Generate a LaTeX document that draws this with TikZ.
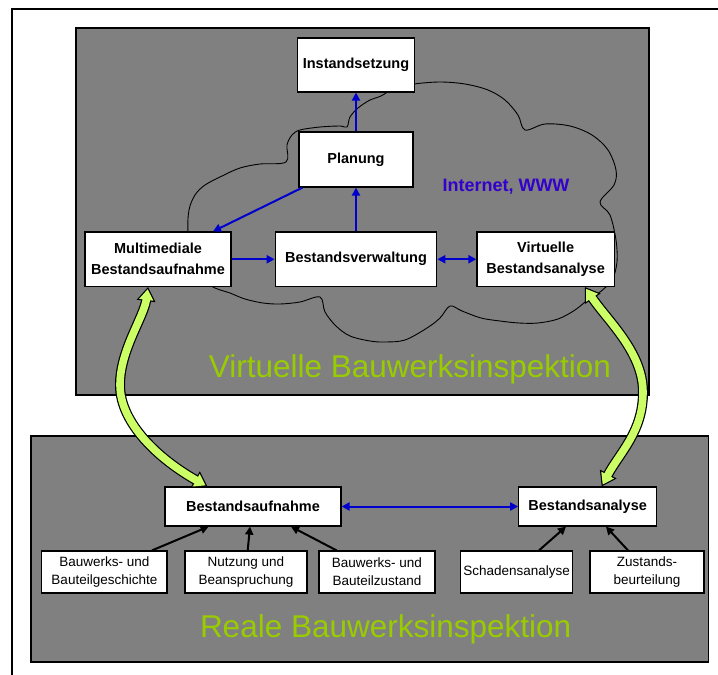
\documentclass[tikz,border=0pt]{standalone}
\usepackage{fontspec}
\setmainfont{Liberation Sans}
\usetikzlibrary{arrows.meta,decorations.markings}
\definecolor{panelgray}{RGB}{128,128,128}
\definecolor{arrblue}{RGB}{0,0,204}
\definecolor{netblue}{RGB}{51,0,204}
\definecolor{titlegreen}{RGB}{153,204,0}
\definecolor{arrgreen}{RGB}{204,255,102}
\begin{document}
\begin{tikzpicture}[x=1pt,y=-1pt,
  bigbox/.style={draw=black, fill=white, line width=1.2pt, inner sep=0pt, align=center, font=\bfseries\fontsize{14.5}{21}\selectfont},
  smallbox/.style={draw=black, fill=white, line width=1.2pt, inner sep=0pt, align=center, font=\fontsize{13.5}{18.3}\selectfont},
  panel/.style={draw=black, fill=panelgray, line width=1.2pt},
  bluearrow/.style={draw=arrblue, line width=2pt, -{Triangle[length=8pt,width=8pt]}},
  bluedbl/.style={draw=arrblue, line width=2pt, {Triangle[length=8pt,width=8pt]}-{Triangle[length=8pt,width=8pt]}},
  blackarrow/.style={draw=black, line width=2pt, -{Triangle[length=8pt,width=8pt]}},
  gshaftout/.style={draw=black, line width=10pt, shorten <=12pt, shorten >=12pt},
  gshaftin/.style={draw=arrgreen, line width=7.6pt, shorten <=12pt, shorten >=12pt},
  gheadsout/.style={postaction={decorate, decoration={markings,
     mark=at position 0 with {\fill[black] (0pt,0pt) -- (14pt,9.5pt) -- (14pt,-9.5pt) -- cycle;},
     mark=at position 1 with {\fill[black] (0pt,0pt) -- (-14pt,9.5pt) -- (-14pt,-9.5pt) -- cycle;}}}},
  gheadsin/.style={postaction={decorate, decoration={markings,
     mark=at position 0 with {\fill[arrgreen] (2.15pt,0pt) -- (12.8pt,7.25pt) -- (12.8pt,-7.25pt) -- cycle;},
     mark=at position 1 with {\fill[arrgreen] (-2.15pt,0pt) -- (-12.8pt,7.25pt) -- (-12.8pt,-7.25pt) -- cycle;}}}},
  leftpath/.style={insert path={(gl0) .. controls +(-4,30) and +(0,-35) .. (gl1) .. controls +(0,40) and +(-45,-25) .. (gl2)}},
  rightpath/.style={insert path={(gr0) .. controls +(22,33) and +(0,-40) .. (gr1) .. controls +(0,40) and +(18,-34) .. (gr2)}}
]
\useasboundingbox (0,0) rectangle (718,675);
\fill[white] (0,0) rectangle (718,675);
% outer frame
\draw[line width=2pt] (718,9) -- (12,9) -- (12,675);
% panels
\draw[panel] (76,28) rectangle (649,395);
\draw[panel] (31,436) rectangle (708.5,662);
% cloud
\draw[line width=0.9pt] plot[smooth cycle, tension=0.55] coordinates {
 (395,88) (414,84) (440,82) (465,84) (488,90) (505,100) (518,115) (525,130)
 (545,124) (570,126) (592,135) (608,150) (616,170) (614,185) (600,202)
 (610,215) (616,240) (617,262) (612,280) (600,292) (590,298) (575,310)
 (558,319) (538,323) (519,323) (500,321) (481,318) (462,311) (450,306)
 (440,318) (427,328) (405,340) (385,342) (370,341) (350,336) (336,326)
 (325,312) (320,297) (300,302) (280,304) (263,303) (245,299) (230,293)
 (210,285) (192,262) (188,232) (189,210) (195,195) (205,185) (222,176)
 (240,168) (260,164) (286,162) (287,145) (292,135) (300,130) (320,127)
 (340,126) (347,127) (350,117) (358,108) (370,100) (381,96)};
% upper nodes
\node[bigbox, minimum width=117pt, minimum height=54pt] (inst) at (356,65) {Instandsetzung};
\node[bigbox, minimum width=114pt, minimum height=55pt] (plan) at (356,159.5) {Planung};
\node[bigbox, minimum width=146pt, minimum height=54.5pt] (multi) at (158,259.25) {Multimediale\\Bestandsaufnahme};
\node[bigbox, minimum width=161.5pt, minimum height=54.5pt] (verw) at (356,259.25) {Bestandsverwaltung};
\node[bigbox, minimum width=137.3pt, minimum height=54.5pt] (virt) at (545.6,259.25) {Virtuelle\\Bestandsanalyse};
\node[text=netblue, font=\bfseries\fontsize{18}{20}\selectfont, anchor=base, inner sep=0pt] (www) at (506,191.7) {Internet, WWW};
\node[text=titlegreen, font=\fontsize{31.5}{35}\selectfont, anchor=base, inner sep=0pt] (vtitle) at (410,377) {Virtuelle Bauwerksinspektion};
% lower nodes
\node[bigbox, minimum width=176pt, minimum height=39pt] (baufn) at (253,506.5) {Bestandsaufnahme};
\node[bigbox, minimum width=138pt, minimum height=39pt] (banal) at (587.7,506.5) {Bestandsanalyse};
\node[smallbox, minimum width=125.3pt, minimum height=42pt] (s1) at (104.4,572) {Bauwerks- und\\Bauteilgeschichte};
\node[smallbox, minimum width=122pt, minimum height=42pt] (s2) at (246,572) {Nutzung und\\Beanspruchung};
\node[smallbox, minimum width=116pt, minimum height=42pt] (s3) at (377,572) {Bauwerks- und\\Bauteilzustand};
\node[smallbox, minimum width=112pt, minimum height=42pt] (s4) at (516.7,572) {Schadensanalyse};
\node[smallbox, minimum width=114pt, minimum height=42pt] (s5) at (647,572) {Zustands-\\beurteilung};
\node[text=titlegreen, font=\fontsize{31.5}{35}\selectfont, anchor=base, inner sep=0pt] (rtitle) at (385.6,637.3) {Reale Bauwerksinspektion};
% blue connectors
\draw[bluearrow] (plan.north) -- (inst.south);
\draw[bluearrow] (verw.north) -- (plan.south);
\draw[bluearrow] ([xshift=4pt]plan.south west) -- ([xshift=55pt]multi.north);
\draw[bluearrow] (multi.east) -- (verw.west);
\draw[bluedbl] (verw.east) -- (virt.west);
\draw[bluedbl] (baufn.east) -- (banal.west);
% black connectors
\draw[blackarrow] ([xshift=47.6pt]s1.north) -- ([xshift=-44.4pt]baufn.south);
\draw[blackarrow] ([xshift=1.7pt]s2.north) -- ([xshift=-3pt]baufn.south);
\draw[blackarrow] ([xshift=-40.4pt]s3.north) -- ([xshift=38pt]baufn.south);
\draw[blackarrow] ([xshift=22.3pt]s4.north) -- ([xshift=-21.7pt]banal.south);
\draw[blackarrow] ([xshift=-19pt]s5.north) -- ([xshift=18.3pt]banal.south);
% green curved arrows
\coordinate (gl0) at ([xshift=-10pt]multi.south);
\coordinate (gl1) at (120,385);
\coordinate (gl2) at ([xshift=43pt]baufn.north west);
\coordinate (gr0) at ([xshift=39.4pt]virt.south);
\coordinate (gr1) at (643,392);
\coordinate (gr2) at ([xshift=14pt]banal.north);
\draw[gshaftout, leftpath];
\path[gheadsout, leftpath];
\draw[gshaftin, leftpath];
\path[gheadsin, leftpath];
\draw[gshaftout, rightpath];
\path[gheadsout, rightpath];
\draw[gshaftin, rightpath];
\path[gheadsin, rightpath];
\end{tikzpicture}
\end{document}
